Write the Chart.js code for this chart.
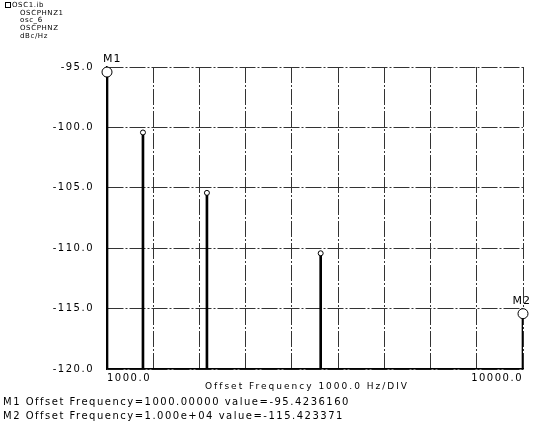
<!DOCTYPE html>
<html>
<head>
<meta charset="utf-8">
<script src="https://cdn.jsdelivr.net/npm/chart.js@4/dist/chart.umd.min.js"></script>
<style>
  html, body { margin: 0; padding: 0; background: #fff; }
  #wrap { width: 543px; height: 432px; }
</style>
</head>
<body>
<div id="wrap"><canvas id="phaseNoise"></canvas></div>
<script>
// offset frequency (Hz) and phase noise level (dBc/Hz) of each stem
const freqs = [1000, 1778, 3162, 5623, 10000];
const levels = [-95.42, -100.42, -105.42, -110.42, -115.42];
const floorLevel = -120;
const yTicks = [-95, -100, -105, -110, -115, -120];
const xMin = 1000, xMax = 10000, xStep = 1000;
const legendLines = ['OSC1.ib', 'OSCPHNZ1', 'osc_6', 'OSCPHNZ', 'dBc/Hz'];
const markerLines = [
  'M1 Offset Frequency=1000.00000 value=-95.4236160',
  'M2 Offset Frequency=1.000e+04 value=-115.423371'
];

const font = '"DejaVu Sans", sans-serif';

const textPlugin = {
  id: 'textPlugin',
  beforeDraw(chart) {
    chart.ctx.letterSpacing = '1.5px';
  },
  afterDraw(chart) {
    const ctx = chart.ctx;
    const x = chart.scales.x, y = chart.scales.y;
    ctx.save();
    ctx.fillStyle = '#000';
    ctx.textBaseline = 'middle';

    // small trace legend, top left
    ctx.letterSpacing = '0.6px';
    ctx.font = '7px ' + font;
    ctx.strokeStyle = '#000';
    ctx.lineWidth = 1;
    ctx.strokeRect(5.5, 2.5, 5, 5);
    ctx.fillText(legendLines[0], 12, 5);
    for (let i = 1; i < legendLines.length; i++) {
      ctx.fillText(legendLines[i], 20, 5 + i * 7.8);
    }

    // marker labels
    ctx.letterSpacing = '1px';
    ctx.font = '11px ' + font;
    ctx.fillText('M1', x.getPixelForValue(freqs[0]) - 4, y.getPixelForValue(levels[0]) - 13);
    ctx.textAlign = 'right';
    ctx.fillText('M2', x.getPixelForValue(freqs[4]) + 8, y.getPixelForValue(levels[4]) - 13);

    // axis title and marker readout
    ctx.letterSpacing = '2px';
    ctx.font = '9px ' + font;
    ctx.textAlign = 'center';
    ctx.fillText('Offset Frequency 1000.0 Hz/DIV', 307, 387);
    ctx.letterSpacing = '1.5px';
    ctx.textAlign = 'left';
    ctx.font = '10px ' + font;
    ctx.fillText(markerLines[0], 3, 402);
    ctx.fillText(markerLines[1], 3, 416);
    ctx.restore();
  }
};

const ctx = document.getElementById('phaseNoise').getContext('2d');
const chart = new Chart(ctx, {
  type: 'bar',
  data: {
    datasets: [{
      label: 'stems',
      data: freqs.map((f, i) => ({ x: f, y: [floorLevel, levels[i]] })),
      backgroundColor: '#000',
      barThickness: 2,
      grouped: false,
      order: 2
    }, {
      type: 'scatter',
      label: 'points',
      data: freqs.map((f, i) => ({ x: f, y: levels[i] })),
      pointRadius: freqs.map((f, i) => (i === 0 || i === freqs.length - 1) ? 5 : 2.5),
      pointBackgroundColor: '#fff',
      pointBorderColor: '#000',
      pointBorderWidth: 1,
      clip: false,
      order: 1
    }]
  },
  options: {
    responsive: true,
    maintainAspectRatio: false,
    animation: false,
    layout: { padding: { top: 67, right: 20, bottom: 0, left: 0 } },
    plugins: {
      legend: { display: false },
      tooltip: { enabled: false }
    },
    scales: {
      x: {
        type: 'linear',
        offset: false,
        min: xMin,
        max: xMax,
        afterFit(scale) { scale.height = 63; },
        afterBuildTicks(scale) {
          const t = [];
          for (let v = xMin; v <= xMax; v += xStep) t.push({ value: v });
          scale.ticks = t;
        },
        ticks: {
          align: 'inner',
          maxRotation: 0,
          autoSkip: false,
          padding: 3,
          color: '#000',
          font: { family: font, size: 10 },
          callback: (v) => (v === xMin || v === xMax) ? v.toFixed(1) : ''
        },
        grid: {
          offset: false,
          color: '#333',
          lineWidth: 1,
          drawTicks: false
        },
        border: { display: true, color: '#000', width: 1.5, dash: [16, 2, 2, 2] }
      },
      y: {
        min: floorLevel,
        max: yTicks[0],
        afterFit(scale) { scale.width = 107; },
        afterBuildTicks(scale) {
          scale.ticks = yTicks.map(v => ({ value: v }));
        },
        ticks: {
          padding: 13,
          color: '#000',
          font: { family: font, size: 10 },
          callback: (v) => v.toFixed(1)
        },
        grid: {
          color: '#333',
          lineWidth: 1,
          drawTicks: false
        },
        border: { display: true, color: '#000', width: 1.5, dash: [16, 2, 2, 2] }
      }
    }
  },
  plugins: [textPlugin]
});
</script>
</body>
</html>
